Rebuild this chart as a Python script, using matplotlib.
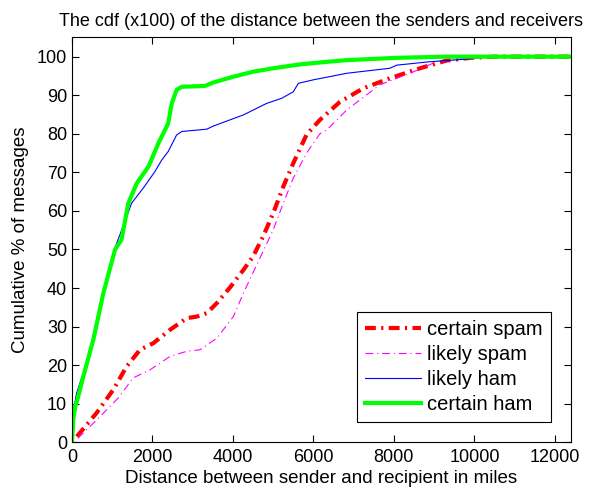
import matplotlib
matplotlib.use('Agg')
import matplotlib.pyplot as plt

plt.rcParams['font.family'] = ['Liberation Sans', 'DejaVu Sans']

# certain spam
cs_x = [120, 160, 610, 1030, 1360, 1690, 2020, 2440, 2850, 3100, 3350, 3600, 3930, 4260,
        4500, 4750, 5000, 5250, 5500, 5830, 6160, 6660, 7240, 7900, 8650, 9310, 9900, 10500, 12400]
cs_y = [1.5, 2, 7.6, 13.7, 19.7, 24, 25.7, 29.2, 32.2, 32.6, 33.5, 36.1, 40.2, 44.7,
        48.2, 53.4, 59.4, 66.3, 72.4, 79.8, 83.6, 88.3, 91.8, 94.4, 97, 99, 99.7, 100, 100]

# likely spam
ls_x = [150, 200, 700, 1150, 1520, 1940, 2440, 2850, 3180, 3600, 4010, 4260, 4590, 5000,
        5250, 5500, 5830, 6160, 6330, 6830, 7650, 8400, 9060, 9720, 10500, 12400]
ls_y = [1, 1.6, 6.7, 11.5, 16.7, 18.8, 22.3, 23.6, 24, 27, 32.6, 38.7, 46, 55.1,
        62, 68.5, 75, 80, 81, 86.2, 92.7, 95.7, 98.7, 99.5, 100, 100]

# likely ham
lh_x = [0, 30, 116, 280, 530, 780, 1070, 1360, 1480, 1770, 2060, 2230, 2390, 2600, 2730,
        3350, 3510, 4260, 4840, 5210, 5500, 5625, 6000, 6830, 7900, 8070, 8900, 9720, 10300, 12400]
lh_y = [0, 8, 12.8, 18, 27.5, 39.5, 50.5, 58.5, 62, 65.9, 70.2, 73.2, 75.4, 79.7, 80.6,
        81.2, 82, 84.9, 87.9, 89.2, 90.9, 93.1, 94, 95.7, 97, 97.8, 98.7, 99.3, 100, 100]

# certain ham
ch_x = [0, 30, 90, 120, 280, 530, 780, 1070, 1230, 1400, 1610, 1900, 2150, 2390, 2480,
        2600, 2730, 3300, 3510, 4010, 4500, 5000, 5670, 6160, 6830, 8070, 9300, 12400]
ch_y = [0, 6, 9.8, 10.5, 17, 26.6, 38.7, 50, 52.5, 62, 67.2, 71.5, 77.6, 82.7, 87.9,
        91.4, 92.2, 92.4, 93.3, 94.8, 96.1, 97, 98, 98.5, 99.1, 99.7, 100, 100]

fig = plt.figure(figsize=(5.97, 4.92), dpi=100)
ax = fig.add_axes([0.1206, 0.101, 0.8358, 0.823])

ax.plot(cs_x, cs_y, color='red', lw=3, linestyle=(0, (2.6, 1.3, 0.5, 1.3)), label='certain spam')
ax.plot(ls_x, ls_y, color='magenta', lw=0.8, linestyle=(0, (7, 3.5, 1, 3.5)), label='likely spam')
ax.plot(lh_x, lh_y, color='blue', lw=0.8, label='likely ham')
ax.plot(ch_x, ch_y, color=(0, 1, 0), lw=3, label='certain ham')

ax.set_xlim(0, 12400)
ax.set_ylim(0, 105)
ax.set_xticks(range(0, 12001, 2000))
ax.set_yticks(range(0, 101, 10))
ax.tick_params(direction='in', top=True, right=True, labelsize=13, length=5)
ax.tick_params(axis='x', pad=5)

ax.set_title('The cdf (x100) of the distance between the senders and receivers', fontsize=13, pad=8)
ax.set_xlabel('Distance between sender and recipient in miles', fontsize=13.5, labelpad=3)
ax.set_ylabel('Cumulative % of messages', fontsize=13.5, labelpad=6)

leg = ax.legend(loc='lower right', fontsize=14.5, handlelength=2.8, handletextpad=0.3,
                fancybox=False, framealpha=1, edgecolor='black', borderaxespad=1.0,
                labelspacing=0.3)
leg.get_frame().set_linewidth(0.8)

fig.savefig('out.png', dpi=100)
